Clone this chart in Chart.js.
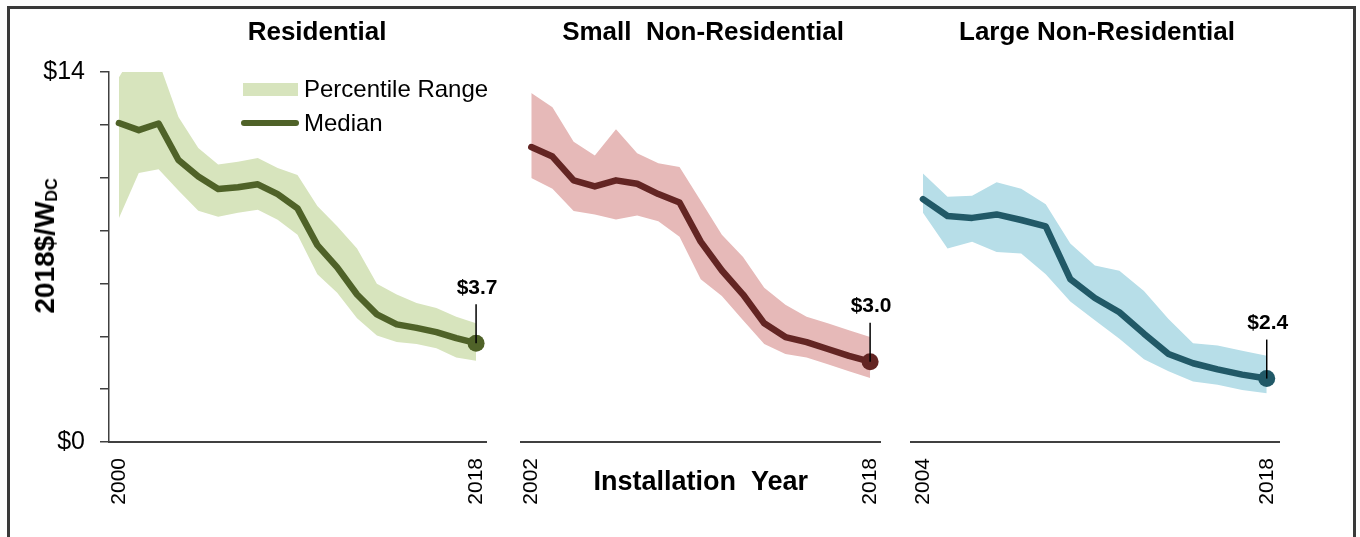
<!DOCTYPE html>
<html>
<head>
<meta charset="utf-8">
<script src="https://cdn.jsdelivr.net/npm/chart.js@4.4.1/dist/chart.umd.min.js"></script>
<style>
  html, body { margin: 0; padding: 0; background: #fff; overflow: hidden; }
  body { width: 1360px; height: 537px; position: relative; font-family: "Liberation Sans", Arial, sans-serif; color: #000; }
  #frame { position: absolute; left: 7px; top: 6px; width: 1343px; height: 600px; border: 3px solid #3a3a3a; box-sizing: content-box; }
  canvas { position: absolute; top: 0; }
  .title { position: absolute; top: 31px; transform: translate(-50%, -50%); font-weight: bold; font-size: 26px; white-space: pre; }
  #ytitle { position: absolute; left: 45px; top: 246px; transform: translate(-50%, -50%) rotate(-90deg); font-weight: bold; font-size: 28px; white-space: nowrap; }
  #ytitle sub { font-size: 16px; vertical-align: -3px; }
  .leg { position: absolute; font-size: 24px; transform: translateY(-50%); white-space: nowrap; }
</style>
</head>
<body>
<div id="frame"></div>
<canvas id="res" width="500" height="537" style="left:0px"></canvas>
<canvas id="snr" width="400" height="537" style="left:500px"></canvas>
<canvas id="lnr" width="470" height="537" style="left:890px"></canvas>

<div class="title" style="left:317px">Residential</div>
<div class="title" style="left:703px">Small  Non-Residential</div>
<div class="title" style="left:1097px">Large Non-Residential</div>
<div id="ytitle">2018$/W<sub>DC</sub></div>

<div style="position:absolute;left:243px;top:83px;width:55px;height:13px;background:#D7E4BD"></div>
<div class="leg" style="left:304px;top:89px">Percentile Range</div>
<div style="position:absolute;left:241px;top:120px;width:58px;height:6px;border-radius:3px;background:#4F6228"></div>
<div class="leg" style="left:304px;top:123px">Median</div>

<script>
// years
var resYears = [2000,2001,2002,2003,2004,2005,2006,2007,2008,2009,2010,2011,2012,2013,2014,2015,2016,2017,2018];
var snrYears = [2002,2003,2004,2005,2006,2007,2008,2009,2010,2011,2012,2013,2014,2015,2016,2017,2018];
var lnrYears = [2004,2005,2006,2007,2008,2009,2010,2011,2012,2013,2014,2015,2016,2017,2018];

// 2018$/W, median and percentile band
var resMedian = [12.07,11.8,12.05,10.67,10.05,9.57,9.64,9.75,9.38,8.84,7.45,6.61,5.58,4.83,4.45,4.32,4.16,3.93,3.74];
var resUpper  = [13.8,15.0,14.4,12.3,11.12,10.5,10.6,10.75,10.37,10.1,8.93,8.16,7.32,5.99,5.58,5.26,5.07,4.74,4.49];
var resLower  = [8.47,10.18,10.32,9.52,8.75,8.52,8.67,8.79,8.41,7.84,6.35,5.65,4.68,4.03,3.78,3.71,3.55,3.2,3.07];

var snrMedian = [11.16,10.8,9.9,9.67,9.9,9.77,9.38,9.06,7.58,6.49,5.58,4.49,3.97,3.78,3.52,3.26,3.04];
var snrUpper  = [13.21,12.67,11.36,10.84,11.83,10.93,10.55,10.41,9.13,7.84,7.0,5.84,5.19,4.74,4.49,4.23,3.97];
var snrLower  = [9.99,9.58,8.74,8.61,8.42,8.57,8.35,7.77,6.16,5.52,4.61,3.71,3.33,3.2,2.94,2.68,2.42];

var lnrMedian = [9.19,8.55,8.48,8.61,8.4,8.16,6.16,5.45,4.91,4.1,3.33,2.98,2.75,2.55,2.4];
var lnrUpper  = [10.16,9.28,9.32,9.83,9.58,9.0,7.51,6.68,6.48,5.71,4.65,3.74,3.65,3.45,3.26];
var lnrLower  = [8.67,7.32,7.58,7.19,7.13,6.35,5.32,4.61,3.91,3.13,2.68,2.29,2.17,1.97,1.84];

var yLabelValues = [0, 14];

var FONT = '"Liberation Sans", Arial, sans-serif';
Chart.defaults.font.family = FONT;
Chart.defaults.color = '#000';

// label with leader line on the last median point
var endLabel = {
  id: 'endLabel',
  afterDatasetsDraw: function(chart) {
    var meta = chart.getDatasetMeta(0);
    var i = meta.data.length - 1;
    var pt = meta.data[i];
    var v = chart.data.datasets[0].data[i];
    var ctx = chart.ctx;
    ctx.save();
    ctx.strokeStyle = '#000';
    ctx.lineWidth = 1.5;
    ctx.beginPath();
    ctx.moveTo(pt.x, pt.y);
    ctx.lineTo(pt.x, pt.y - 39);
    ctx.stroke();
    ctx.font = 'bold 21px ' + FONT;
    ctx.fillStyle = '#000';
    ctx.textAlign = 'center';
    ctx.textBaseline = 'middle';
    ctx.fillText('$' + v.toFixed(1), pt.x + 1, pt.y - 55);
    ctx.restore();
  }
};

function makeChart(id, years, median, upper, lower, lineColor, bandColor, pad, showY, xTitle) {
  var last = years.length - 1;
  return new Chart(document.getElementById(id), {
    type: 'line',
    data: {
      labels: years,
      datasets: [
        {
          data: median,
          borderColor: lineColor,
          borderWidth: 6.5,
          borderJoinStyle: 'round',
          borderCapStyle: 'round',
          pointRadius: function(c) { return c.dataIndex === last ? 8.5 : 0; },
          pointBackgroundColor: lineColor,
          pointBorderWidth: 0,
          pointHoverRadius: 0,
          fill: false,
          tension: 0
        },
        {
          data: upper,
          borderColor: 'transparent',
          borderWidth: 0,
          pointRadius: 0,
          backgroundColor: bandColor,
          fill: '+1',
          tension: 0
        },
        {
          data: lower,
          borderColor: 'transparent',
          borderWidth: 0,
          pointRadius: 0,
          fill: false,
          tension: 0
        }
      ]
    },
    options: {
      responsive: false,
      animation: false,
      events: [],
      layout: { padding: pad },
      plugins: { legend: { display: false }, tooltip: { enabled: false } },
      scales: {
        x: {
          type: 'category',
          offset: true,
          grid: { display: false, drawTicks: false },
          border: { display: true, color: '#404040', width: 2 },
          ticks: {
            autoSkip: false,
            minRotation: 90,
            maxRotation: 90,
            padding: 16,
            color: '#000',
            font: { size: 21 },
            callback: function(v, i) {
              return (i === 0 || i === last) ? String(years[i]) : '';
            }
          },
          title: {
            display: !!xTitle,
            text: xTitle || '',
            color: '#000',
            font: { size: 27, weight: 'bold' },
            padding: { top: 0, bottom: 38 }
          },
          afterFit: function(s) {
            s.height = 95;
            s.paddingLeft = 0;
            s.paddingRight = 0;
          }
        },
        y: {
          display: showY,
          min: 0,
          max: 14,
          grid: { drawOnChartArea: false, drawTicks: true, tickLength: 9, color: '#404040', lineWidth: 1.5 },
          border: { display: true, color: '#404040', width: 1.5 },
          ticks: {
            stepSize: 2,
            padding: 15,
            color: '#000',
            font: { size: 25 },
            callback: function(v) { return yLabelValues.indexOf(v) >= 0 ? '$' + v : ''; }
          },
          afterFit: function(s) {
            s.width = showY ? 109 : 0;
            s.paddingTop = 0;
            s.paddingBottom = 0;
          }
        }
      }
    },
    plugins: [endLabel]
  });
}

makeChart('res', resYears, resMedian, resUpper, resLower, '#4F6228', '#D7E4BD',
  { top: 72, right: 14, left: 0, bottom: 0 }, true, null);
makeChart('snr', snrYears, snrMedian, snrUpper, snrLower, '#632523', '#E6B9B8',
  { top: 72, right: 19.3, left: 20.7, bottom: 0 }, false, 'Installation  Year');
makeChart('lnr', lnrYears, lnrMedian, lnrUpper, lnrLower, '#215967', '#B7DEE8',
  { top: 72, right: 81, left: 20.7, bottom: 0 }, false, null);
</script>
</body>
</html>
